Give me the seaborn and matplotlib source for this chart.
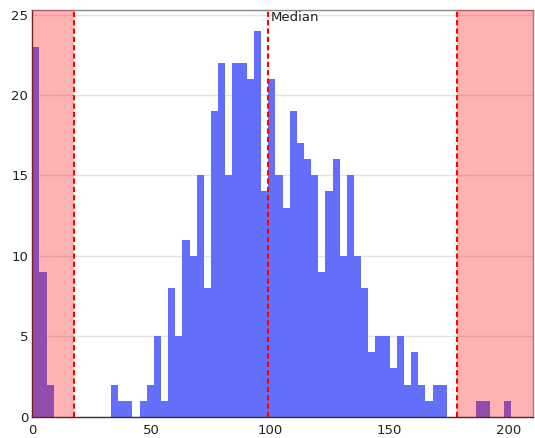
"""Histogram with median marker and shaded outlier zones."""

import matplotlib

matplotlib.use("Agg")
import matplotlib.pyplot as plt
import numpy as np
import pandas as pd
import seaborn as sns


BIN_WIDTH = 3
BIN_COUNTS = [
    23, 9, 2, 0, 0, 0, 0, 0, 0, 0, 0,
    2, 1, 1, 0, 1, 2, 5, 1, 8, 5, 11,
    10, 15, 8, 19, 22, 15, 22, 22, 21, 24, 14, 21,
    15, 13, 19, 17, 16, 15, 9, 14, 16, 10, 15, 10,
    8, 4, 5, 5, 3, 5, 2, 4, 2, 1, 2, 2,
    0, 0, 0, 0, 1, 1, 0, 0, 1,
]
MEDIAN = 98.8
LOWER_CUTOFF = 17.6
UPPER_CUTOFF = 178.1
X_TICKS = [0, 50, 100, 150, 200]
Y_TICKS = [0, 5, 10, 15, 20, 25]

BAR_COLOR = "#636EFA"
ZONE_COLOR = "red"


def main() -> None:
    sns.set_theme(style="white")
    plt.rcParams["font.family"] = ["DejaVu Sans"]

    edges = [i * BIN_WIDTH for i in range(len(BIN_COUNTS) + 1)]
    df = pd.DataFrame({
        "value": np.array(edges[:-1]) + BIN_WIDTH / 2,
        "count": BIN_COUNTS,
    })

    fig = plt.figure(figsize=(5.35, 4.38), dpi=100)
    ax = fig.add_axes([0.0604, 0.0486, 0.9353, 0.9293])

    ax.yaxis.grid(True, color="#e3e3e3", linewidth=1)
    ax.set_axisbelow(True)

    sns.histplot(
        data=df, x="value", weights="count", bins=edges,
        color=BAR_COLOR, alpha=1, linewidth=0, ax=ax, zorder=2,
    )

    ax.set_xlim(0, 210)
    ax.set_ylim(0, 25.3)

    # translucent red zones drawn over the bars
    ax.axvspan(0, LOWER_CUTOFF, color=ZONE_COLOR, alpha=0.3, linewidth=0, zorder=3)
    ax.axvspan(UPPER_CUTOFF, 210, color=ZONE_COLOR, alpha=0.3, linewidth=0, zorder=3)

    for xpos in [LOWER_CUTOFF, MEDIAN, UPPER_CUTOFF]:
        ax.axvline(xpos, color="red", linewidth=1.5, linestyle=(0, (2.5, 1.5)), zorder=4)

    ax.annotate(
        "Median", xy=(MEDIAN, 25.3), xytext=(2, -1), textcoords="offset points",
        ha="left", va="top", fontsize=9.5, color="#222222", zorder=5,
    )

    ax.set_xticks(X_TICKS)
    ax.set_yticks(Y_TICKS)
    ax.tick_params(axis="both", length=0, labelsize=9.5, labelcolor="#222222")
    ax.tick_params(axis="x", pad=5)
    ax.tick_params(axis="y", pad=3)
    ax.set_xlabel("")
    ax.set_ylabel("")

    for side in ["left", "bottom"]:
        ax.spines[side].set_color("#333333")
        ax.spines[side].set_linewidth(1)
    for side in ["top", "right"]:
        ax.spines[side].set_color("#888888")
        ax.spines[side].set_linewidth(1)

    fig.savefig("out.png", dpi=100)
    plt.close(fig)


if __name__ == "__main__":
    main()
